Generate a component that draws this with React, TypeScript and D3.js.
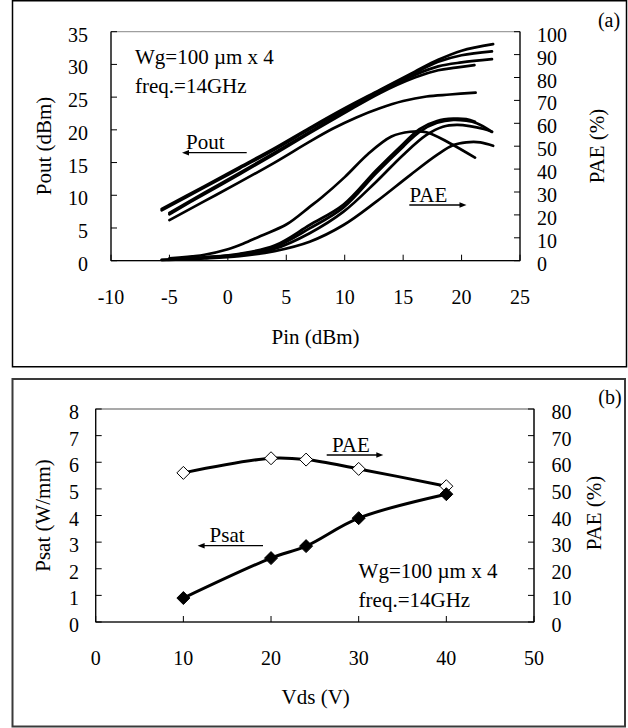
import React from "react";
import * as d3 from "d3";

// ---- panel (a): Pout / PAE vs Pin, one curve per Vds ----
const pinTicks = [-10, -5, 0, 5, 10, 15, 20, 25];
const poutTicks = [0, 5, 10, 15, 20, 25, 30, 35];
const paeTicksA = [0, 10, 20, 30, 40, 50, 60, 70, 80, 90, 100];

// [Pin (dBm), Pout (dBm)]
const pout40: [number, number][] = [
  [-5.66, 7.9], [-2, 11.4], [1, 14.3], [4, 17.2], [7, 20.3], [10, 23.3],
  [13, 26.1], [16, 28.9], [18, 30.7], [20, 32.1], [22.7, 33.1],
];
const pout30: [number, number][] = [
  [-5.66, 7.7], [-2, 11.2], [1, 14.1], [4, 17.0], [7, 20.1], [10, 23.1],
  [13, 26.0], [16, 28.7], [18, 30.4], [20, 31.4], [22.6, 32.0],
];
const pout24: [number, number][] = [
  [-5, 7.3], [-2, 10.4], [1, 13.4], [4, 16.5], [7, 19.7], [10, 22.8],
  [13, 25.8], [16, 28.4], [18, 29.7], [20, 30.3], [22.6, 30.8],
];
const pout20: [number, number][] = [
  [-5, 7.1], [-2, 10.2], [1, 13.2], [4, 16.3], [7, 19.5], [10, 22.6],
  [13, 25.6], [16, 28.0], [18, 29.1], [19.5, 29.5], [21.1, 29.9],
];
const pout10: [number, number][] = [
  [-5, 6.2], [-2, 9.1], [1, 12.0], [4, 15.0], [7, 18.2], [9, 20.2],
  [11, 21.9], [13, 23.3], [15, 24.4], [17, 25.1], [19, 25.4], [21.2, 25.7],
];

// [Pin (dBm), PAE (%)]
const paeCurve10: [number, number][] = [
  [-5, 1.0], [-2, 2.6], [0, 5.0], [1.3, 7.4], [2.8, 10.8], [5, 15.8],
  [7, 23.5], [8, 27.5], [10, 36.5], [12, 46.6], [14, 54.2], [15.6, 56.3],
  [17, 56.1], [19, 51.3], [21.15, 45.0],
];
const paeCurve20: [number, number][] = [
  [-5, 0.5], [-2, 1.5], [1, 3.0], [4, 6.6], [7, 15.6], [9.9, 24.5],
  [12.7, 39.5], [15, 51.0], [16.4, 57.5], [17.9, 61.0], [19.3, 62.0],
  [20.4, 61.8], [21.15, 60.7],
];
const paeCurve24: [number, number][] = [
  [-5, 0.5], [-2, 1.4], [1, 2.8], [4, 6.0], [7, 14.1], [9.9, 23.3],
  [12.7, 38.3], [15, 49.8], [16.4, 56.3], [17.9, 60.2], [19.3, 61.5],
  [20.4, 61.1], [21.3, 60.0], [22.6, 56.3],
];
const paeCurve30: [number, number][] = [
  [-5.66, 0.4], [-2, 1.2], [1, 2.5], [4, 5.2], [7, 12.0], [9.9, 21.4],
  [12.7, 34.5], [15, 46.2], [17, 54.9], [18.4, 58.5], [19.6, 59.3],
  [20.7, 58.8], [21.9, 57.5], [22.6, 56.3],
];
const paeCurve40: [number, number][] = [
  [-5.66, 0.3], [-2, 1.0], [1, 2.0], [4, 4.2], [7, 8.3], [9.9, 15.6],
  [12.7, 25.8], [15.6, 37.4], [17.9, 46.2], [19.3, 50.5], [20.4, 51.7],
  [21.6, 51.7], [22.7, 50.2],
];

const poutCurves = [pout40, pout30, pout24, pout20, pout10];
const paeCurves = [paeCurve10, paeCurve20, paeCurve24, paeCurve30, paeCurve40];

// ---- panel (b): Psat / PAE vs Vds ----
const vdsTicks = [0, 10, 20, 30, 40, 50];
const psatTicks = [0, 1, 2, 3, 4, 5, 6, 7, 8];
const paeTicksB = [0, 10, 20, 30, 40, 50, 60, 70, 80];
const vds = [10, 20, 24, 30, 40];
const psat = [0.9, 2.4, 2.85, 3.9, 4.8];
const paeSat = [56, 61.5, 61, 57.5, 51];

const FONT = "Liberation Serif, Tinos, Times New Roman, Times, Nimbus Roman, DejaVu Serif, serif";

function Diamond({ x, y, filled }: { x: number; y: number; filled: boolean }) {
  const r = 6.5;
  return (
    <path
      d={`M${x},${y - r}L${x + r},${y}L${x},${y + r}L${x - r},${y}Z`}
      fill={filled ? "#000" : "#fff"}
      stroke="#000"
      strokeWidth={1}
    />
  );
}

function Arrow({ x1, x2, y }: { x1: number; x2: number; y: number }) {
  // line from x1 to x2, head at x2
  const dir = x2 > x1 ? 1 : -1;
  return (
    <g>
      <line x1={x1} x2={x2 - dir * 4} y1={y} y2={y} stroke="#000" strokeWidth={1.3} />
      <path d={`M${x2},${y}L${x2 - dir * 7},${y - 2.8}L${x2 - dir * 7},${y + 2.8}Z`} fill="#000" />
    </g>
  );
}

export default function App() {
  // panel (a) scales
  const xA = d3.scaleLinear().domain([-10, 25]).range([111, 520]);
  const yA = d3.scaleLinear().domain([0, 35]).range([260.7, 31.7]);
  const yA2 = d3.scaleLinear().domain([0, 100]).range([260.7, 31.7]);

  const lineA = d3
    .line<[number, number]>()
    .x((d) => xA(d[0]))
    .y((d) => yA(d[1]))
    .curve(d3.curveCatmullRom.alpha(0.5));
  const lineA2 = d3
    .line<[number, number]>()
    .x((d) => xA(d[0]))
    .y((d) => yA2(d[1]))
    .curve(d3.curveCatmullRom.alpha(0.5));

  // panel (b) scales
  const xB = d3.scaleLinear().domain([0, 50]).range([95.7, 534]);
  const yB = d3.scaleLinear().domain([0, 8]).range([622, 409]);
  const yB2 = d3.scaleLinear().domain([0, 80]).range([622, 409]);

  const lineB = d3
    .line<number>()
    .x((_, i) => xB(vds[i]))
    .y((d) => yB(d))
    .curve(d3.curveCatmullRom.alpha(0.5));
  const lineB2 = d3
    .line<number>()
    .x((_, i) => xB(vds[i]))
    .y((d) => yB2(d))
    .curve(d3.curveCatmullRom.alpha(0.5));

  return (
    <div style={{ position: "absolute", left: 0, top: 0 }}>
      <svg width={628} height={728} style={{ display: "block" }} fontFamily={FONT} fill="#000">
        <rect width={628} height={728} fill="#fff" />

        {/* ---------- panel (a) ---------- */}
        <rect x={12.5} y={0.75} width={614} height={366} fill="none" stroke="#000" strokeWidth={1.5} />
        <rect x={111} y={31.7} width={409} height={229} fill="none" stroke="#888" strokeWidth={1} />
        <line x1={111} x2={111} y1={31.7} y2={260.7} stroke="#000" strokeWidth={1.2} />
        <line x1={111} x2={520} y1={260.7} y2={260.7} stroke="#000" strokeWidth={1.2} />
        <line x1={520} x2={520} y1={31.7} y2={260.7} stroke="#000" strokeWidth={1.2} />

        {poutTicks.map((t) => (
          <g key={"pt" + t}>
            <line x1={111} x2={117} y1={yA(t)} y2={yA(t)} stroke="#000" />
            <text x={88} y={yA(t) + 10} textAnchor="end" fontSize={20}>{t}</text>
          </g>
        ))}
        {paeTicksA.map((t) => (
          <g key={"pa" + t}>
            <line x1={514} x2={520} y1={yA2(t)} y2={yA2(t)} stroke="#000" />
            <text x={537} y={yA2(t) + 10} textAnchor="start" fontSize={20}>{t}</text>
          </g>
        ))}
        {pinTicks.map((t) => (
          <g key={"pi" + t}>
            <line x1={xA(t)} x2={xA(t)} y1={254.7} y2={260.7} stroke="#000" />
            <text x={xA(t)} y={304} textAnchor="middle" fontSize={20}>{t}</text>
          </g>
        ))}

        {poutCurves.map((c, i) => (
          <path key={"po" + i} d={lineA(c) || ""} fill="none" stroke="#000" strokeWidth={2.7} strokeLinecap="round" />
        ))}
        {paeCurves.map((c, i) => (
          <path key={"pe" + i} d={lineA2(c) || ""} fill="none" stroke="#000" strokeWidth={2.7} strokeLinecap="round" />
        ))}

        <text x={135} y={64.3} fontSize={21}>Wg=100 µm x 4</text>
        <text x={135} y={93.3} fontSize={21}>freq.=14GHz</text>
        <text x={186} y={148.5} fontSize={21}>Pout</text>
        <Arrow x1={246.7} x2={182} y={152.7} />
        <text x={409.5} y={201.5} fontSize={21}>PAE</text>
        <Arrow x1={409.3} x2={466.5} y={205} />

        <text x={315.5} y={344} textAnchor="middle" fontSize={21}>Pin (dBm)</text>
        <text transform="translate(51,146) rotate(-90)" textAnchor="middle" fontSize={21}>Pout (dBm)</text>
        <text transform="translate(604,146) rotate(-90)" textAnchor="middle" fontSize={21}>PAE (%)</text>
        <text x={609} y={27} textAnchor="middle" fontSize={20}>(a)</text>

        {/* ---------- panel (b) ---------- */}
        <rect x={12.5} y={379} width={612.5} height={347.5} fill="none" stroke="#3a3a3a" strokeWidth={2} />
        <rect x={95.7} y={409} width={438.3} height={213} fill="none" stroke="#555" strokeWidth={1} />
        <line x1={95.7} x2={95.7} y1={409} y2={622} stroke="#000" strokeWidth={1.2} />
        <line x1={95.7} x2={534} y1={622} y2={622} stroke="#000" strokeWidth={1.2} />
        <line x1={534} x2={534} y1={409} y2={622} stroke="#000" strokeWidth={1.2} />

        {psatTicks.map((t) => (
          <g key={"ps" + t}>
            <line x1={95.7} x2={101.7} y1={yB(t)} y2={yB(t)} stroke="#000" />
            <text x={79} y={yB(t) + 10} textAnchor="end" fontSize={20}>{t}</text>
          </g>
        ))}
        {paeTicksB.map((t) => (
          <g key={"pb" + t}>
            <line x1={528} x2={534} y1={yB2(t)} y2={yB2(t)} stroke="#000" />
            <text x={551.5} y={yB2(t) + 10} textAnchor="start" fontSize={20}>{t}</text>
          </g>
        ))}
        {vdsTicks.map((t) => (
          <g key={"vd" + t}>
            <line x1={xB(t)} x2={xB(t)} y1={616} y2={622} stroke="#000" />
            <text x={xB(t)} y={665} textAnchor="middle" fontSize={20}>{t}</text>
          </g>
        ))}

        <path d={lineB2(paeSat) || ""} fill="none" stroke="#000" strokeWidth={3} />
        <path d={lineB(psat) || ""} fill="none" stroke="#000" strokeWidth={3} />
        {paeSat.map((v, i) => (
          <Diamond key={"do" + i} x={xB(vds[i])} y={yB2(v)} filled={false} />
        ))}
        {psat.map((v, i) => (
          <Diamond key={"df" + i} x={xB(vds[i])} y={yB(v)} filled={true} />
        ))}

        <text x={332} y={451.5} fontSize={21}>PAE</text>
        <Arrow x1={326.7} x2={383.3} y={455} />
        <text x={209.6} y={541.7} fontSize={21}>Psat</text>
        <Arrow x1={263} x2={197.6} y={545.7} />
        <text x={358.6} y={578.3} fontSize={21}>Wg=100 µm x 4</text>
        <text x={358.6} y={606.7} fontSize={21}>freq.=14GHz</text>

        <text x={315.7} y={704} textAnchor="middle" fontSize={21}>Vds (V)</text>
        <text transform="translate(50,515.5) rotate(-90)" textAnchor="middle" fontSize={21}>Psat (W/mm)</text>
        <text transform="translate(601,513) rotate(-90)" textAnchor="middle" fontSize={21}>PAE (%)</text>
        <text x={610} y={404} textAnchor="middle" fontSize={20}>(b)</text>
      </svg>
    </div>
  );
}
